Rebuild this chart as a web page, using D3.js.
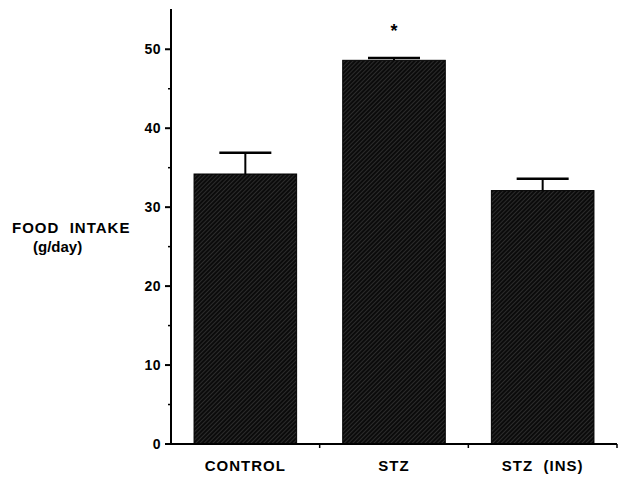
<!DOCTYPE html>
<html>
<head>
<meta charset="utf-8">
<script src="https://cdn.jsdelivr.net/npm/d3@7"></script>
<style>
  body { margin: 0; background: #fff; }
  text { font-family: "Liberation Sans", Arial, sans-serif; font-weight: bold; fill: #000; }
</style>
</head>
<body>
<div id="chart"></div>
<script>
// data
const groups = ["CONTROL", "STZ", "STZ\u00a0\u00a0(INS)"];
const means = [34.2, 48.6, 32.1];
const errors = [2.7, 0.3, 1.5];
const marks = ["", "*", ""];
const yTicks = [0, 10, 20, 30, 40, 50];
const yMinor = [5, 15, 25, 35, 45];

const W = 620, H = 477;
const margin = { top: 9, right: 3, bottom: 33, left: 171 };
const width = W - margin.left - margin.right;
const height = H - margin.top - margin.bottom;

const svg = d3.select("#chart").append("svg")
  .attr("width", W).attr("height", H);

// hatch pattern, dark fill with fine grey diagonals
const defs = svg.append("defs");
const pat = defs.append("pattern")
  .attr("id", "hatch")
  .attr("patternUnits", "userSpaceOnUse")
  .attr("width", 3).attr("height", 3)
  .attr("patternTransform", "rotate(45)");
pat.append("rect").attr("width", 3).attr("height", 3).attr("fill", "#0b0b0b");
pat.append("line").attr("x1", 0).attr("y1", 0).attr("x2", 0).attr("y2", 3)
  .attr("stroke", "#6a6a6a").attr("stroke-width", 0.7);

const g = svg.append("g").attr("transform", `translate(${margin.left},${margin.top})`);

const x = d3.scaleBand().domain(groups).range([0, width]).paddingInner(0.31).paddingOuter(0.155);
const xb = d3.scaleBand().domain(groups).range([0, width]);
const y = d3.scaleLinear().domain([0, 55.1]).range([height, 0]);

// bars
g.selectAll(".bar").data(groups).enter().append("rect")
  .attr("x", d => x(d))
  .attr("y", (d, i) => y(means[i]))
  .attr("width", x.bandwidth())
  .attr("height", (d, i) => height - y(means[i]))
  .attr("fill", "url(#hatch)")
  .attr("stroke", "#000").attr("stroke-width", 1);

// error bars (upper only)
const capW = 52;
groups.forEach((d, i) => {
  const cx = x(d) + x.bandwidth() / 2;
  g.append("line")
    .attr("x1", cx).attr("x2", cx)
    .attr("y1", y(means[i])).attr("y2", y(means[i] + errors[i]))
    .attr("stroke", "#000").attr("stroke-width", 2);
  g.append("line")
    .attr("x1", cx - capW / 2).attr("x2", cx + capW / 2)
    .attr("y1", y(means[i] + errors[i])).attr("y2", y(means[i] + errors[i]))
    .attr("stroke", "#000").attr("stroke-width", 2.5);
  if (marks[i]) {
    g.append("text")
      .attr("x", cx).attr("y", y(means[i] + errors[i]) - 21)
      .attr("text-anchor", "middle")
      .style("font-size", "18px")
      .text(marks[i]);
  }
});

// y axis
g.append("line").attr("x1", 0).attr("x2", 0).attr("y1", 0).attr("y2", height)
  .attr("stroke", "#000").attr("stroke-width", 2);
g.selectAll(".ytick").data(yTicks).enter().append("line")
  .attr("x1", -6).attr("x2", 0)
  .attr("y1", d => y(d)).attr("y2", d => y(d))
  .attr("stroke", "#000").attr("stroke-width", 2);
g.selectAll(".yminor").data(yMinor).enter().append("line")
  .attr("x1", -3).attr("x2", 0)
  .attr("y1", d => y(d)).attr("y2", d => y(d))
  .attr("stroke", "#000").attr("stroke-width", 1.5);
g.selectAll(".ylab").data(yTicks).enter().append("text")
  .attr("x", -10).attr("y", d => y(d))
  .attr("dy", "0.36em")
  .attr("text-anchor", "end")
  .style("font-size", "14px")
  .style("letter-spacing", "0.5px")
  .text(d => d);

// x axis
g.append("line").attr("x1", 0).attr("x2", width).attr("y1", height).attr("y2", height)
  .attr("stroke", "#000").attr("stroke-width", 2);
g.selectAll(".xtick").data(groups).enter().append("line")
  .attr("x1", d => xb(d) + xb.bandwidth()).attr("x2", d => xb(d) + xb.bandwidth())
  .attr("y1", height).attr("y2", height + 4)
  .attr("stroke", "#000").attr("stroke-width", 1.5);
g.selectAll(".xlab").data(groups).enter().append("text")
  .attr("x", d => x(d) + x.bandwidth() / 2)
  .attr("y", height + 27)
  .attr("text-anchor", "middle")
  .style("font-size", "15px")
  .style("letter-spacing", "1px")
  .text(d => d);

// y title
svg.append("text").attr("x", 12).attr("y", 233)
  .style("font-size", "15px")
  .style("letter-spacing", "1px")
  .text("FOOD\u00a0\u00a0INTAKE");
svg.append("text").attr("x", 33).attr("y", 252)
  .style("font-size", "15px")
  .text("(g/day)");
</script>
</body>
</html>
